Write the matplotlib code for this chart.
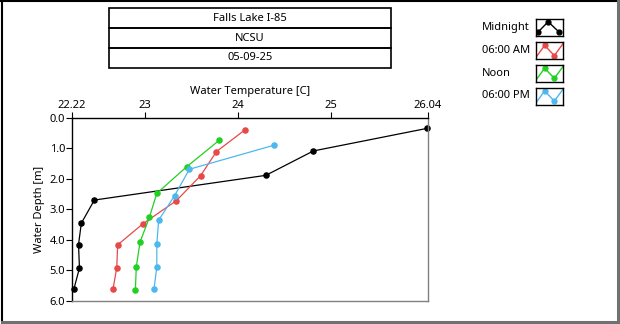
import matplotlib.pyplot as plt
from matplotlib.patches import Rectangle

plt.rcParams["font.family"] = ["Noto Sans", "DejaVu Sans"]

# DATA
TITLE_ROWS = ["Falls Lake I-85", "NCSU", "05-09-25"]
SERIES     = ["Midnight", "06:00 AM", "Noon", "06:00 PM"]
COLORS     = ["#000000", "#E84848", "#22D022", "#4DB8EE"]

temp_midnight = [26.03, 24.81, 24.30, 22.46, 22.32, 22.29, 22.30, 22.24]
depth_midnight = [0.35, 1.09, 1.89, 2.70, 3.46, 4.16, 4.93, 5.62]

temp_6am  = [24.08, 23.77, 23.60, 23.34, 22.98, 22.71, 22.70, 22.66]
depth_6am = [0.39, 1.11, 1.90, 2.72, 3.48, 4.17, 4.92, 5.62]

temp_noon  = [23.80, 23.45, 23.13, 23.05, 22.95, 22.91, 22.90]
depth_noon = [0.74, 1.61, 2.48, 3.27, 4.08, 4.89, 5.65]

temp_6pm  = [24.39, 23.48, 23.32, 23.15, 23.13, 23.13, 23.10]
depth_6pm = [0.90, 1.69, 2.56, 3.36, 4.14, 4.90, 5.62]

X_TICKS = [22.22, 23, 24, 25, 26.04]
X_TICK_LABELS = ["22.22", "23", "24", "25", "26.04"]
Y_TICKS = [0, 1, 2, 3, 4, 5, 6]

W, H = 620, 324
FS = 8.0

fig = plt.figure(figsize=(W / 100, H / 100), dpi=100)


def fx(px):
    return px / W


def fy(py):
    return 1 - py / H


# outer frame: black top/left, gray bottom/right
fig.add_artist(plt.Line2D([fx(1.5), fx(1.5)], [fy(0), fy(322)], color="black", lw=1.5, transform=fig.transFigure))
fig.add_artist(plt.Line2D([fx(0), fx(618)], [fy(0.8), fy(0.8)], color="black", lw=1.5, transform=fig.transFigure))
fig.add_artist(plt.Line2D([fx(618), fx(618)], [fy(0), fy(322.5)], color="#707070", lw=2.2, transform=fig.transFigure))
fig.add_artist(plt.Line2D([fx(1.5), fx(619)], [fy(322), fy(322)], color="#707070", lw=2.2, transform=fig.transFigure))

# title boxes
box_left, box_right = 109, 390.5
row_tops = [8.5, 28.3, 48.0]
row_h = 19.5
for txt, top in zip(TITLE_ROWS, row_tops):
    fig.add_artist(Rectangle((fx(box_left), fy(top + row_h)), fx(box_right - box_left), row_h / H,
                             transform=fig.transFigure, fill=False, edgecolor="black", lw=1.2))
    fig.text(fx((box_left + box_right) / 2), fy(top + row_h / 2), txt, ha="center", va="center", fontsize=FS)

# main axes
ax = fig.add_axes([fx(72), fy(300.7), fx(428 - 72), (300.7 - 117.7) / H])
temps  = [temp_midnight, temp_6am, temp_noon, temp_6pm]
depths = [depth_midnight, depth_6am, depth_noon, depth_6pm]
for t, d, c in zip(temps, depths, COLORS):
    ax.plot(t, d, color=c, lw=0.9, marker="o", ms=3.7, mec=c, mfc=c, clip_on=False)

ax.set_xlim(22.22, 26.04)
ax.set_ylim(6, 0)
ax.xaxis.tick_top()
ax.xaxis.set_label_position("top")
ax.set_xticks(X_TICKS)
ax.set_xticklabels(X_TICK_LABELS)
ax.set_yticks(Y_TICKS)
ax.set_yticklabels([f"{v:.1f}" for v in Y_TICKS])
ax.tick_params(axis="x", direction="out", length=4, width=0.8, pad=1, labelsize=FS)
ax.tick_params(axis="y", direction="out", length=4, width=0.8, pad=1, labelsize=FS)
ax.set_xlabel("Water Temperature [C]", fontsize=FS, labelpad=4)
ax.set_ylabel("Water Depth [m]", fontsize=FS, labelpad=3)
for side in ["top", "left"]:
    ax.spines[side].set_color("black")
    ax.spines[side].set_linewidth(1.0)
for side in ["right", "bottom"]:
    ax.spines[side].set_color("#808080")
    ax.spines[side].set_linewidth(1.0)

# legend: text + little icon boxes
leg_rows = [27.7, 50.5, 73.3, 96.0]
icon_shapes = [
    ([0.08, 0.45, 0.85], [0.25, 0.85, 0.25], [0, 1, 2]),
    ([0.0, 0.32, 0.68, 1.0], [0.1, 0.8, 0.2, 0.9], [1, 2]),
    ([0.0, 0.32, 0.68, 1.0], [0.1, 0.8, 0.2, 0.9], [1, 2]),
    ([0.0, 0.32, 0.68, 1.0], [0.1, 0.8, 0.2, 0.9], [1, 2]),
]
for name, c, yc, (ix, iy, mk) in zip(SERIES, COLORS, leg_rows, icon_shapes):
    fig.text(fx(482), fy(yc), name, ha="left", va="center", fontsize=FS)
    iax = fig.add_axes([fx(536), fy(yc + 8.5), fx(27), 17 / H])
    iax.plot(ix, iy, color=c, lw=1.0)
    iax.plot([ix[i] for i in mk], [iy[i] for i in mk], "o", color=c, ms=3.5)
    iax.set_xlim(0, 1)
    iax.set_ylim(0, 1)
    iax.set_xticks([])
    iax.set_yticks([])
    for s in iax.spines.values():
        s.set_linewidth(1.0)

fig.savefig("out.png", dpi=100)
